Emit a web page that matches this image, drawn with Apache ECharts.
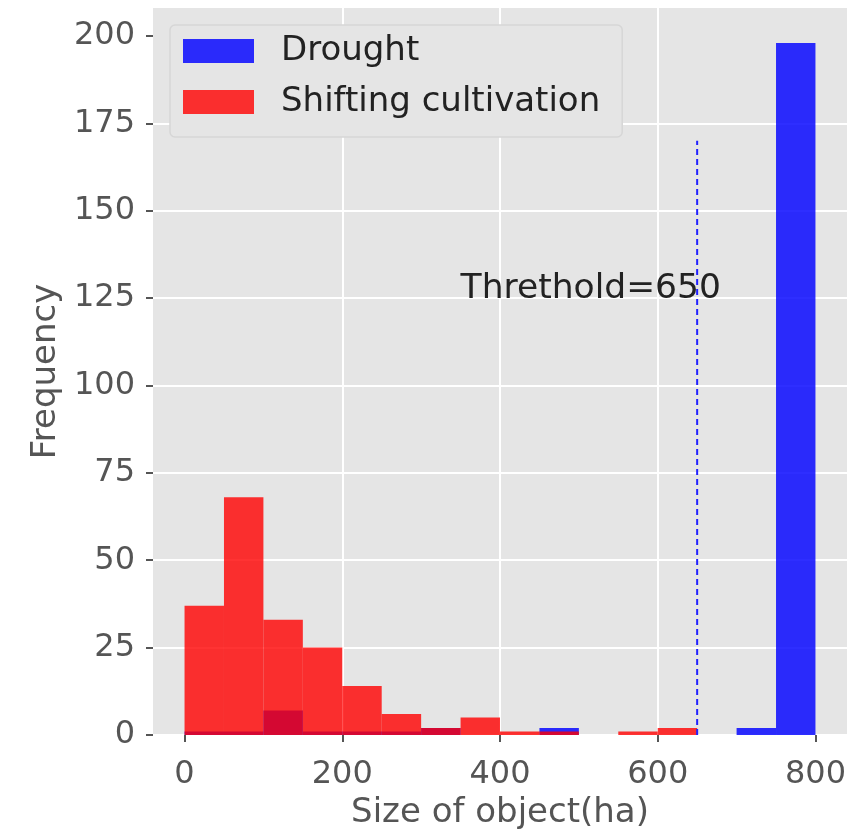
<!DOCTYPE html>
<html>
<head>
<meta charset="utf-8">
<script src="https://cdn.jsdelivr.net/npm/echarts@6/dist/echarts.min.js"></script>
<style>
  html, body { margin: 0; padding: 0; background: #fff; }
  #chart { width: 861px; height: 829px; }
</style>
</head>
<body>
<div id="chart"></div>
<script>
const binStarts = [0, 50, 100, 150, 200, 250, 300, 350, 400, 450, 500, 550, 600, 650, 700, 750];
const binWidth = 50;
const droughtCounts = [1, 1, 7, 1, 1, 1, 2, 0, 0, 2, 0, 0, 0, 0, 2, 198];
const shiftingCounts = [37, 68, 33, 25, 14, 6, 2, 5, 1, 1, 0, 1, 2, 0, 0, 0];
const thresholdLine = [[650, 0], [650, 170]];
const thresholdText = { x: 350, y: 125, text: "Threthold=650" };
const xTicks = [0, 200, 400, 600, 800];
const yTicks = [0, 25, 50, 75, 100, 125, 150, 175, 200];

const font = "DejaVu Sans";
const chart = echarts.init(document.getElementById("chart"));

function toBins(counts) {
  return counts.map((c, i) => [binStarts[i], binStarts[i] + binWidth, c]);
}

function renderBar(params, api) {
  const p0 = api.coord([api.value(0), 0]);
  const p1 = api.coord([api.value(1), api.value(2)]);
  return {
    type: "rect",
    shape: { x: p0[0], y: p1[1], width: p1[0] - p0[0], height: p0[1] - p1[1] },
    style: api.style(),
  };
}

const option = {
  animation: false,
  grid: {
    left: 153,
    right: 14,
    top: 8,
    bottom: 94,
    outerBoundsMode: "none",
    containLabel: false,
    show: true,
    backgroundColor: "#E5E5E5",
    borderWidth: 0,
  },
  legend: {
    orient: "vertical",
    left: 170,
    top: 25,
    data: ["Drought", "Shifting cultivation"],
    icon: "rect",
    itemWidth: 71,
    itemHeight: 24,
    itemGap: 17,
    padding: [9, 22, 18, 13],
    backgroundColor: "#E5E5E5",
    borderColor: "#d6d6d6",
    borderWidth: 1.5,
    borderRadius: 5,
    textStyle: {
      fontFamily: font,
      fontSize: 34,
      color: "#222",
      lineHeight: 34,
      padding: [0, 0, 0, 22],
    },
  },
  xAxis: {
    type: "value",
    min: -40,
    max: 840,
    splitNumber: 5,
    name: "Size of object(ha)",
    nameLocation: "middle",
    nameGap: 56,
    nameTextStyle: { fontFamily: font, fontSize: 34, color: "#555" },
    axisLine: { show: false, onZero: false },
    axisTick: { show: true, length: 7, lineStyle: { color: "#555", width: 2 }, customValues: xTicks },
    axisLabel: { fontFamily: font, fontSize: 32, color: "#555", margin: 24, customValues: xTicks },
    splitLine: { show: true, showMinLine: false, showMaxLine: false, lineStyle: { color: "#fff", width: 2 } },
  },
  yAxis: {
    type: "value",
    min: 0,
    max: 208,
    interval: 25,
    name: "Frequency",
    nameLocation: "middle",
    nameGap: 90,
    nameTextStyle: { fontFamily: font, fontSize: 34, color: "#555" },
    axisLine: { show: false, onZero: false },
    axisTick: { show: true, length: 7, lineStyle: { color: "#555", width: 2 }, customValues: yTicks },
    axisLabel: { fontFamily: font, fontSize: 32, color: "#555", margin: 18, customValues: yTicks },
    splitLine: { show: true, showMaxLine: false, lineStyle: { color: "#fff", width: 2 } },
  },
  series: [
    {
      name: "Drought",
      type: "custom",
      renderItem: renderBar,
      encode: { x: [0, 1], y: 2 },
      itemStyle: { color: "rgba(0,0,255,0.82)" },
      data: toBins(droughtCounts),
      z: 2,
    },
    {
      name: "Shifting cultivation",
      type: "custom",
      renderItem: renderBar,
      encode: { x: [0, 1], y: 2 },
      itemStyle: { color: "rgba(255,0,0,0.8)" },
      data: toBins(shiftingCounts),
      z: 3,
    },
    {
      type: "line",
      data: thresholdLine,
      symbol: "none",
      lineStyle: { color: "#2020ff", width: 2, type: [6, 4] },
      z: 4,
    },
    {
      type: "custom",
      data: [[thresholdText.x, thresholdText.y]],
      renderItem: function (params, api) {
        const p = api.coord([api.value(0), api.value(1)]);
        return {
          type: "text",
          x: p[0],
          y: p[1] + 8,
          style: {
            text: thresholdText.text,
            font: "34.5px " + font,
            fill: "#222",
            textAlign: "left",
            textVerticalAlign: "bottom",
          },
        };
      },
      z: 5,
    },
  ],
};

chart.setOption(option);
window.onresize = function () {
  chart.resize();
};
</script>
</body>
</html>
